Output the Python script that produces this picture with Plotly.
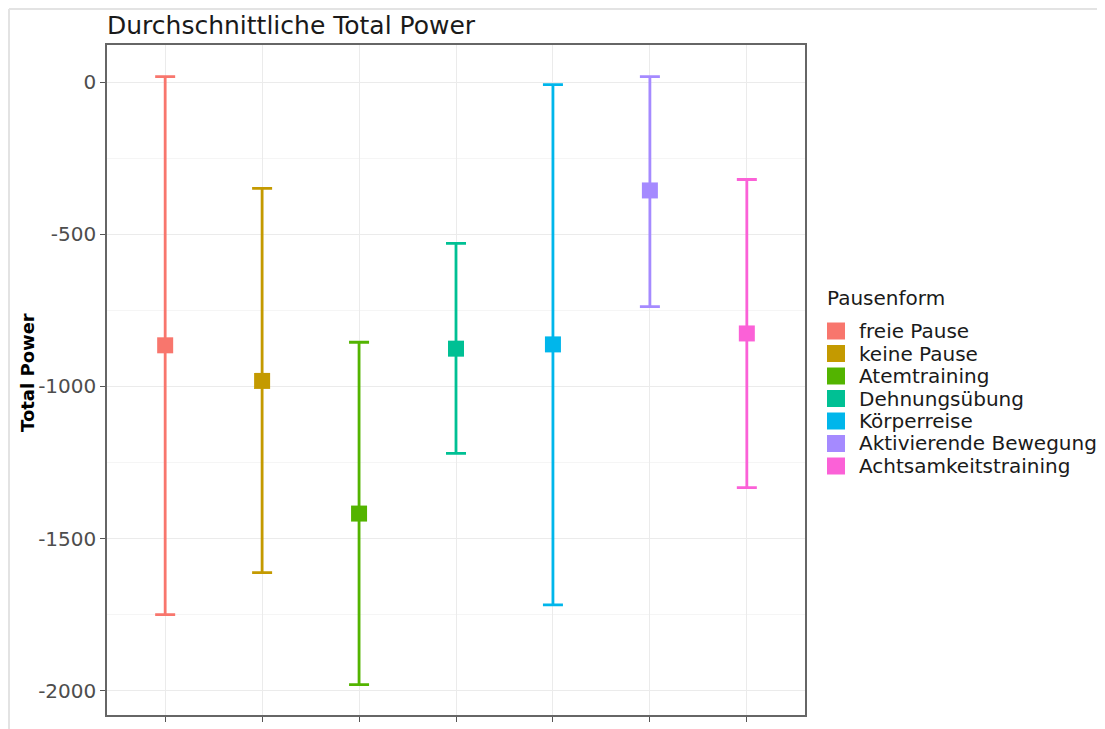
import plotly.graph_objects as go

# ---- data ----
categories = ["freie Pause", "keine Pause", "Atemtraining", "Dehnungsübung",
              "Körperreise", "Aktivierende Bewegung", "Achtsamkeitstraining"]
mean_power = [-865, -982, -1418, -876, -862, -356, -826]
upper_ci = [18, -349, -855, -530, -8, 18, -320]
lower_ci = [-1750, -1612, -1980, -1220, -1718, -738, -1333]
colors = ["#F8766D", "#C49A00", "#53B400", "#00C094", "#00B6EB", "#A58AFF", "#FB61D7"]
y_ticks = [0, -500, -1000, -1500, -2000]

title_text = "Durchschnittliche Total Power"
y_title = "Total Power"
legend_title = "Pausenform"

FONT = "DejaVu Sans"
OFF = 8  # page body margin
W, H = 1097, 721
L, R, T, B = 99, 300, 37, 14
PW, PH = W - L - R, H - T - B


def px_to_paper_x(page_px):
    return (page_px - OFF - L) / PW


def px_to_paper_y(page_py):
    return (H - B - (page_py - OFF)) / PH


fig = go.Figure()
for cat, m, up, lo, col in zip(categories, mean_power, upper_ci, lower_ci, colors):
    fig.add_trace(go.Scatter(
        x=[cat], y=[m], mode="markers", name=cat, showlegend=False,
        marker=dict(symbol="square", size=16, color=col),
        error_y=dict(type="data", symmetric=False, array=[up - m], arrayminus=[m - lo],
                     color=col, thickness=2.8, width=10),
    ))

# manual legend (keys + labels), built from categories/colors
leg_x_key0, leg_x_key1, leg_x_text = 827, 845, 857
leg_y0, leg_step = 331, 22.5
shapes = []
annotations = []
annotations.append(dict(x=px_to_paper_x(825), y=px_to_paper_y(298), xref="paper", yref="paper",
                        text=legend_title, showarrow=False, xanchor="left", yanchor="middle",
                        font=dict(family=FONT, size=20, color="#1a1a1a")))
for i, (cat, col) in enumerate(zip(categories, colors)):
    yc = leg_y0 + i * leg_step
    shapes.append(dict(type="rect", xref="paper", yref="paper",
                       x0=px_to_paper_x(leg_x_key0), x1=px_to_paper_x(leg_x_key1),
                       y0=px_to_paper_y(yc + 8.5), y1=px_to_paper_y(yc - 8.5),
                       fillcolor=col, line=dict(width=0)))
    annotations.append(dict(x=px_to_paper_x(leg_x_text), y=px_to_paper_y(yc), xref="paper", yref="paper",
                            text=cat, showarrow=False, xanchor="left", yanchor="middle",
                            font=dict(family=FONT, size=20, color="#1a1a1a")))

# y axis title
annotations.append(dict(x=px_to_paper_x(28), y=px_to_paper_y(373), xref="paper", yref="paper", text=y_title,
                        textangle=-90, showarrow=False, xanchor="center", yanchor="middle",
                        font=dict(family=FONT, size=18, color="#000000", weight="bold")))

# light frame lines of the screenshot
shapes.append(dict(type="line", xref="paper", yref="paper", x0=px_to_paper_x(9), x1=px_to_paper_x(1105),
                   y0=px_to_paper_y(9), y1=px_to_paper_y(9), line=dict(color="#E3E3E3", width=2)))
shapes.append(dict(type="line", xref="paper", yref="paper", x0=px_to_paper_x(9), x1=px_to_paper_x(9),
                   y0=px_to_paper_y(9), y1=px_to_paper_y(729), line=dict(color="#E3E3E3", width=2)))

fig.update_layout(
    width=W, height=H,
    margin=dict(l=L, r=R, t=T, b=B, autoexpand=False),
    paper_bgcolor="white", plot_bgcolor="white",
    title=dict(text=title_text, x=0, xref="paper", xanchor="left",
               y=1 - (25 - OFF) / H, yref="container", yanchor="middle",
               font=dict(family=FONT, size=25, color="#1a1a1a")),
    showlegend=False,
    shapes=shapes,
    annotations=annotations,
    xaxis=dict(type="category", categoryorder="array", categoryarray=categories,
               range=[-0.6, len(categories) - 0.4],
               showticklabels=False, ticks="outside", ticklen=5, tickcolor="#555555",
               showgrid=True, gridcolor="#EBEBEB", gridwidth=1.2,
               showline=True, linecolor="#666666", linewidth=1.5, mirror=True,
               zeroline=False),
    yaxis=dict(range=[-2080, 122], tickvals=y_ticks, ticktext=[str(v) for v in y_ticks],
               ticks="outside", ticklen=5, tickcolor="#555555",
               tickfont=dict(family=FONT, size=20, color="#4D4D4D"),
               showgrid=True, gridcolor="#EBEBEB", gridwidth=1.2,
               minor=dict(tickvals=[-250, -750, -1250, -1750], showgrid=True,
                          gridcolor="#F5F5F5", gridwidth=1, ticks=""),
               showline=True, linecolor="#666666", linewidth=1.5, mirror=True,
               zeroline=False),
)

fig.write_html("out.html")
